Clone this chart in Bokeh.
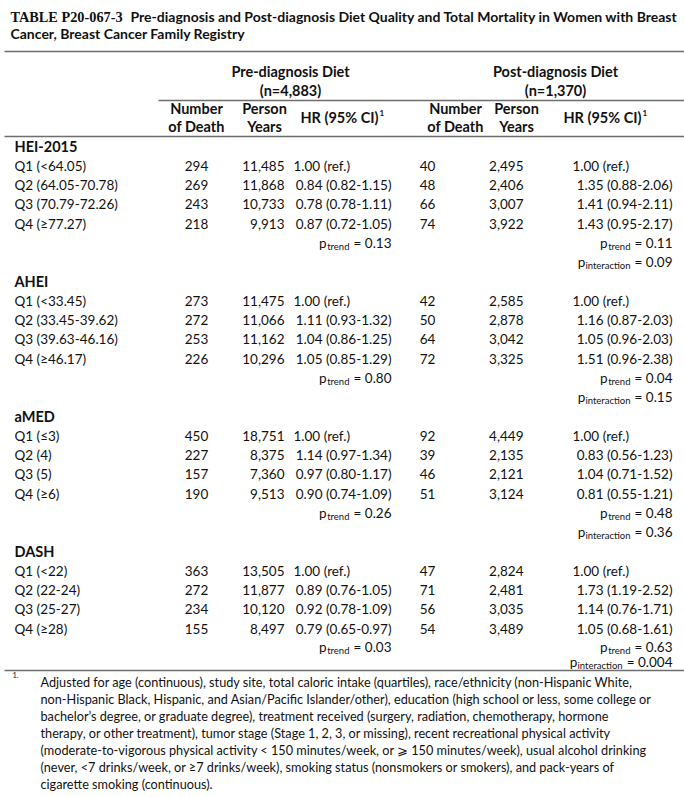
from bokeh.plotting import figure
from bokeh.models import ColumnDataSource, Range1d
from bokeh.core.properties import value
from bokeh.embed import file_html
from bokeh.resources import INLINE

# ---------------- data ----------------
title_code = "TABLE P20-067-3"
title_line1 = "Pre-diagnosis and Post-diagnosis Diet Quality and Total Mortality in Women with Breast"
title_line2 = "Cancer, Breast Cancer Family Registry"
pre_header = ["Pre-diagnosis Diet", "(n=4,883)"]
post_header = ["Post-diagnosis Diet", "(n=1,370)"]
col_headers = [["Number", "of Death"], ["Person", "Years"], ["HR (95% CI)"]]

groups = ["HEI-2015", "AHEI", "aMED", "DASH"]
quartile_labels = [
    ["Q1 (<64.05)", "Q2 (64.05-70.78)", "Q3 (70.79-72.26)", "Q4 (≥77.27)"],
    ["Q1 (<33.45)", "Q2 (33.45-39.62)", "Q3 (39.63-46.16)", "Q4 (≥46.17)"],
    ["Q1 (≤3)", "Q2 (4)", "Q3 (5)", "Q4 (≥6)"],
    ["Q1 (<22)", "Q2 (22-24)", "Q3 (25-27)", "Q4 (≥28)"],
]
pre_deaths = [[294, 269, 243, 218], [273, 272, 253, 226], [450, 227, 157, 190], [363, 272, 234, 155]]
pre_person_years = [[11485, 11868, 10733, 9913], [11475, 11066, 11162, 10296],
                    [18751, 8375, 7360, 9513], [13505, 11877, 10120, 8497]]
pre_hr = [[1.00, 0.84, 0.78, 0.87], [1.00, 1.11, 1.04, 1.05], [1.00, 1.14, 0.97, 0.90], [1.00, 0.89, 0.92, 0.79]]
pre_lo = [[None, 0.82, 0.78, 0.72], [None, 0.93, 0.86, 0.85], [None, 0.97, 0.80, 0.74], [None, 0.76, 0.78, 0.65]]
pre_hi = [[None, 1.15, 1.11, 1.05], [None, 1.32, 1.25, 1.29], [None, 1.34, 1.17, 1.09], [None, 1.05, 1.09, 0.97]]
pre_ptrend = ["0.13", "0.80", "0.26", "0.03"]

post_deaths = [[40, 48, 66, 74], [42, 50, 64, 72], [92, 39, 46, 51], [47, 71, 56, 54]]
post_person_years = [[2495, 2406, 3007, 3922], [2585, 2878, 3042, 3325],
                     [4449, 2135, 2121, 3124], [2824, 2481, 3035, 3489]]
post_hr = [[1.00, 1.35, 1.41, 1.43], [1.00, 1.16, 1.05, 1.51], [1.00, 0.83, 1.04, 0.81], [1.00, 1.73, 1.14, 1.05]]
post_lo = [[None, 0.88, 0.94, 0.95], [None, 0.87, 0.96, 0.96], [None, 0.56, 0.71, 0.55], [None, 1.19, 0.76, 0.68]]
post_hi = [[None, 2.06, 2.11, 2.17], [None, 2.03, 2.03, 2.38], [None, 1.23, 1.52, 1.21], [None, 2.52, 1.71, 1.61]]
post_ptrend = ["0.11", "0.04", "0.48", "0.63"]
p_interaction = ["0.09", "0.15", "0.36", "0.004"]

footnote_mark = "1."
footnote_lines = [
    "Adjusted for age (continuous), study site, total caloric intake (quartiles), race/ethnicity (non-Hispanic White,",
    "non-Hispanic Black, Hispanic, and Asian/Pacific Islander/other), education (high school or less, some college or",
    "bachelor’s degree, or graduate degree), treatment received (surgery, radiation, chemotherapy, hormone",
    "therapy, or other treatment), tumor stage (Stage 1, 2, 3, or missing), recent recreational physical activity",
    "(moderate-to-vigorous physical activity < 150 minutes/week, or ⩾ 150 minutes/week), usual alcohol drinking",
    "(never, <7 drinks/week, or ≥7 drinks/week), smoking status (nonsmokers or smokers), and pack-years of",
    "cigarette smoking (continuous).",
]

# ---------------- layout / style ----------------
FONT = "Lato"
BODY = 13.5
HEAD = 14.5
SUB = 9.5
FOOT = 12.7
INK = "#111111"
RULE = "#6e6e6e"

W, H = 684, 797
p = figure(width=W, height=H, output_backend="svg", toolbar_location=None,
           x_range=Range1d(0, W), y_range=Range1d(H, 0),
           x_axis_type=None, y_axis_type=None, min_border=0)
p.grid.visible = False
p.outline_line_color = None
p.background_fill_color = "white"
p.border_fill_color = "white"

items = {}


def add(x, y, txt, size=BODY, align="left", bold=False, font=FONT):
    key = (size, align, bold, font)
    d = items.setdefault(key, {"x": [], "y": [], "t": []})
    d["x"].append(x)
    d["y"].append(y)
    d["t"].append(txt)


# approximate advance widths (em) used to chain subscript pieces
WID = {"0": .58, "1": .58, "2": .58, "3": .58, "4": .58, "5": .58, "6": .58, "7": .58, "8": .58, "9": .58,
       ".": .23, "=": .58, " ": .193, "p": .57, "t": .34, "r": .37, "e": .53, "n": .56, "d": .57,
       "i": .24, "a": .51, "c": .46, "o": .56}


def tw(s, size):
    return sum(WID.get(ch, .5) for ch in s) * size


def p_stat(x_end, y, sub, val):
    vtxt = "= " + val
    add(x_end, y, vtxt, BODY, "right")
    x_sub_end = x_end - tw(vtxt, BODY) - 5
    add(x_sub_end, y + 3, sub, SUB, "right")
    add(x_sub_end - tw(sub, SUB) - 0.5, y, "p", BODY, "right")


def fmt_hr(h, lo, hi):
    if lo is None:
        return "%.2f (ref.)" % h
    return "%.2f (%.2f-%.2f)" % (h, lo, hi)


# title
add(10, 16, title_code, 14.3, "left", True, "Liberation Serif")
add(130, 16, title_line1, 14, "left", True)
add(10, 33, title_line2, 14, "left", True)

# group headers
PRE_C, POST_C = 290, 555
for i, t in enumerate(pre_header):
    add(PRE_C, 71 + 19 * i, t, HEAD, "center", True)
for i, t in enumerate(post_header):
    add(POST_C, 71 + 19 * i, t, HEAD, "center", True)

# column headers
col_centers = [[196, 264], [455, 516]]
hr_right = [378, 641]
for side in range(2):
    c = col_centers[side]
    for j in range(2):
        for k, t in enumerate(col_headers[j]):
            add(c[j], 108 + 18 * k, t, HEAD, "center", True)
    add(hr_right[side], 117, col_headers[2][0], HEAD, "right", True)
    add(hr_right[side] + 1, 112, "1", 8, "left", True)

# column anchors
X_LABEL = 14
X_PRE_D, X_PRE_PY, X_PRE_REF, X_PRE_END = 196, 284, 293, 391
X_POST_D, X_POST_PY, X_POST_REF, X_POST_END = 427, 523, 572, 672

Y0, GSTEP, RSTEP = 146, 135, 19.3
for g, name in enumerate(groups):
    yh = Y0 + GSTEP * g
    add(X_LABEL, yh, name, HEAD, "left", True)
    for i in range(4):
        y = yh + RSTEP * (i + 1)
        add(X_LABEL, y, quartile_labels[g][i])
        add(X_PRE_D, y, str(pre_deaths[g][i]), BODY, "center")
        add(X_PRE_PY, y, "{:,}".format(pre_person_years[g][i]), BODY, "right")
        if pre_lo[g][i] is None:
            add(X_PRE_REF, y, fmt_hr(pre_hr[g][i], None, None))
        else:
            add(X_PRE_END, y, fmt_hr(pre_hr[g][i], pre_lo[g][i], pre_hi[g][i]), BODY, "right")
        add(X_POST_D, y, str(post_deaths[g][i]), BODY, "center")
        add(X_POST_PY, y, "{:,}".format(post_person_years[g][i]), BODY, "right")
        if post_lo[g][i] is None:
            add(X_POST_REF, y, fmt_hr(post_hr[g][i], None, None))
        else:
            add(X_POST_END, y, fmt_hr(post_hr[g][i], post_lo[g][i], post_hi[g][i]), BODY, "right")
    last = g == len(groups) - 1
    yt = yh + RSTEP * 5 - (1 if last else 0)
    p_stat(X_PRE_END, yt, "trend", pre_ptrend[g])
    p_stat(X_POST_END, yt, "trend", post_ptrend[g])
    yi = yh + RSTEP * 6 - (5 if last else 0)
    p_stat(X_POST_END, yi, "interaction", p_interaction[g])

# footnote
add(12, 674, footnote_mark, 7.5, "left", False)
for i, line in enumerate(footnote_lines):
    add(40, 681 + 17.1 * i, line, FOOT, "left")

# rules
p.segment(x0=[4, 158, 4, 4], y0=[51, 100, 136, 670], x1=[684, 684, 684, 684], y1=[51, 100, 136, 670],
          line_color=RULE, line_width=1.3)

for (size, align, bold, font), d in items.items():
    src = ColumnDataSource(dict(x=d["x"], y=d["y"], t=d["t"]))
    p.text(x="x", y="y", text="t", source=src, text_align=align, text_baseline="middle",
           text_font=value(font), text_font_size="%.1fpx" % size,
           text_font_style="bold" if bold else "normal", text_color=INK)

open("out.html", "w").write(file_html(p, INLINE))
